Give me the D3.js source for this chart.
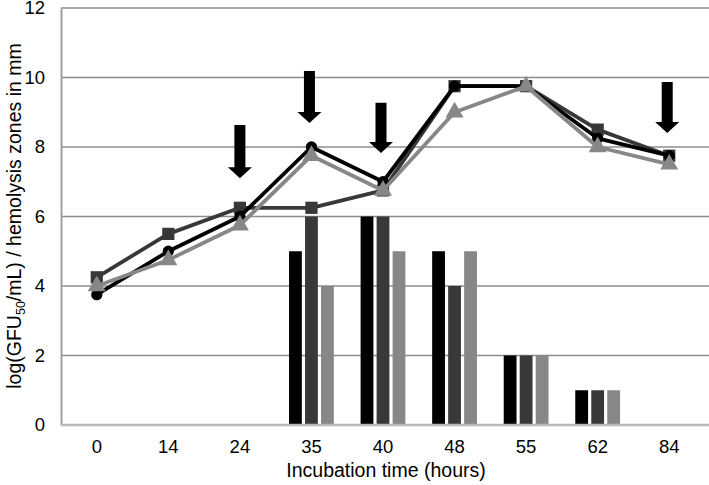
<!DOCTYPE html>
<html><head><meta charset="utf-8">
<script src="https://cdn.jsdelivr.net/npm/d3@7"></script>
<style>body{margin:0;background:#fff}svg{display:block}text{font-family:"Liberation Sans",Arial,sans-serif}</style>
</head><body><svg id="c" width="709" height="485"></svg>
<script>
const categories = ["0","14","24","35","40","48","55","62","84"];
const yTicks = [0,2,4,6,8,10,12];
const barsA = [0,0,0,5,6,5,2,1,0];
const barsB = [0,0,0,6,6,4,2,1,0];
const barsC = [0,0,0,4,5,5,2,1,0];
const lineCircle = [3.75,5.0,6.0,8.0,7.0,9.75,9.75,8.25,7.75];
const lineSquare = [4.25,5.5,6.25,6.25,6.75,9.75,9.75,8.5,7.75];
const lineTriangle = [4.0,4.75,5.75,7.75,6.75,9.0,9.75,8.0,7.5];
const arrowCats = ["24","35","40","84"];
const arrowTop = [8.63,10.19,9.27,9.87];
const arrowTip = [7.1,8.69,7.83,8.4];

const svg = d3.select("#c");
const m = {l:61, r:705, t:8, b:425};
const x = d3.scaleBand().domain(categories).range([m.l, m.r]).padding(0);
const y = d3.scaleLinear().domain([0,12]).range([m.b, m.t]);
const cx = c => x(c) + x.bandwidth()/2;

// gridlines
svg.append("g").selectAll("line").data(yTicks.filter(d=>d>0)).join("line")
  .attr("x1", m.l).attr("x2", 709).attr("y1", d=>y(d)).attr("y2", d=>y(d))
  .attr("stroke", "#8c8c8c").attr("stroke-width", 1.5);

// y axis
const ya = svg.append("g").attr("transform", `translate(${m.l},0)`)
  .call(d3.axisLeft(y).tickValues(yTicks).tickSize(0).tickPadding(16));
ya.select(".domain").attr("stroke", "#a0a0a0").attr("stroke-width", 2);
ya.selectAll("text").attr("font-size", 18.5).attr("fill", "#000").attr("font-family", '"Liberation Sans",Arial,sans-serif');

// bars
const sub = d3.scaleBand().domain(["a","b","c"]).range([-24,24]).paddingInner(0.2).paddingOuter(0.1);
const barSeries = [{k:"a", v:barsA, c:"#000000"},{k:"b", v:barsB, c:"#383838"},{k:"c", v:barsC, c:"#878787"}];
barSeries.forEach(s => {
  svg.append("g").selectAll("rect").data(categories.map((c,i)=>({c, v:s.v[i]})).filter(d=>d.v>0)).join("rect")
    .attr("x", d => cx(d.c) + sub(s.k)).attr("width", sub.bandwidth())
    .attr("y", d => y(d.v)).attr("height", d => y(0) - y(d.v)).attr("fill", s.c);
});

// x axis
const xa = svg.append("g").attr("transform", `translate(0,${m.b})`)
  .call(d3.axisBottom(x).tickSize(0).tickPadding(15));
xa.select(".domain").remove();
svg.append("line").attr("x1", m.l).attr("x2", 709).attr("y1", m.b).attr("y2", m.b)
  .attr("stroke", "#b8b8b8").attr("stroke-width", 2.5);
xa.selectAll("text").attr("font-size", 18.5).attr("fill", "#000").attr("font-family", '"Liberation Sans",Arial,sans-serif');

// lines
const lineGen = d3.line().x(d=>cx(d.c)).y(d=>y(d.v));
const lineSeries = [
  {v:lineSquare, c:"#383838", sym:d3.symbolSquare, size:150},
  {v:lineCircle, c:"#000000", sym:d3.symbolCircle, size:100},
  {v:lineTriangle, c:"#878787", sym:d3.symbolTriangle, size:140}
];
lineSeries.forEach(s => {
  const pts = categories.map((c,i)=>({c, v:s.v[i]}));
  svg.append("path").datum(pts).attr("d", lineGen).attr("fill","none")
    .attr("stroke", s.c).attr("stroke-width", 3.8).attr("stroke-linejoin","round");
  svg.append("g").selectAll("path").data(pts).join("path")
    .attr("transform", d=>`translate(${cx(d.c)},${y(d.v)})`)
    .attr("d", d3.symbol().type(s.sym).size(s.size)).attr("fill", s.c);
});

// arrows
arrowCats.forEach((c,i) => {
  const xc = cx(c) + (c==="24"? 0 : -2);
  const yt = y(arrowTop[i]), yp = y(arrowTip[i]);
  const hh = 11, sw = 5.5, hw = 12;
  const pts = [[xc-sw,yt],[xc+sw,yt],[xc+sw,yp-hh],[xc+hw,yp-hh],[xc,yp],[xc-hw,yp-hh],[xc-sw,yp-hh]];
  svg.append("path").attr("d", d3.line()(pts)+"Z").attr("fill","#000");
});

// axis titles
svg.append("text").attr("x", (m.l+m.r)/2 + 3).attr("y", 477).attr("text-anchor","middle")
  .attr("font-size", 19.5).text("Incubation time (hours)");
const yt = svg.append("text").attr("transform","translate(21,216) rotate(-90)").attr("text-anchor","middle")
  .attr("font-size", 19.5);
yt.append("tspan").text("log(GFU");
yt.append("tspan").attr("font-size", 12.5).attr("dy", 4).text("50");
yt.append("tspan").attr("dy", -4).text("/mL) / hemolysis zones in mm");
</script></body></html>
